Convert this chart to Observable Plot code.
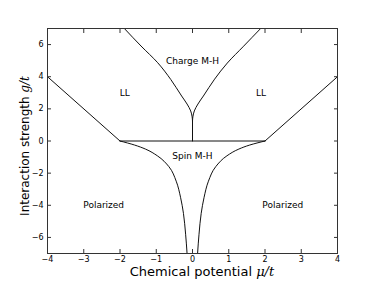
<!DOCTYPE html>
<html>
<head>
<meta charset="utf-8">
<script src="https://cdn.jsdelivr.net/npm/d3@7"></script>
<script src="https://cdn.jsdelivr.net/npm/@observablehq/plot@0.6"></script>
<style>
  html, body { margin: 0; padding: 0; background: #fff; }
</style>
</head>
<body>
<div id="chart"></div>
<script>
// ---- data ----
const xTicks = [-4, -3, -2, -1, 0, 1, 2, 3, 4];
const yTicks = [-6, -4, -2, 0, 2, 4, 6];

// straight boundaries
const llLeftMu = [-4, -2];
const llLeftG = [4, 0];
const llRightMu = [2, 4];
const llRightG = [0, 4];
const zeroLineMu = [-2, 2];
const zeroLineG = [0, 0];
const cuspMu = [0, 0];
const cuspG = [0, 1.25];

// Charge M-H boundaries
const chargeLeftMu = [0, -0.01, -0.05, -0.15, -0.30, -0.60, -0.96, -1.42, -1.88];
const chargeLeftG = [1.25, 1.5, 1.87, 2.3, 2.8, 3.83, 4.87, 5.91, 7.0];
const chargeRightMu = [0, 0.01, 0.05, 0.15, 0.30, 0.61, 0.96, 1.41, 1.88];
const chargeRightG = [1.25, 1.5, 1.87, 2.3, 2.8, 3.85, 4.85, 5.9, 7.0];

// Spin M-H boundaries
const spinLeftMu = [-2, -1.6, -1.3, -0.97, -0.65, -0.45, -0.33, -0.25, -0.19, -0.15];
const spinLeftG = [0, -0.25, -0.5, -0.92, -1.6, -2.5, -3.5, -4.5, -5.8, -7];
const spinRightMu = [2, 1.58, 1.28, 0.95, 0.64, 0.44, 0.32, 0.24, 0.18, 0.14];
const spinRightG = [0, -0.25, -0.5, -0.92, -1.6, -2.5, -3.5, -4.5, -5.8, -7];

// region labels
const regionNames = ["Charge M-H", "LL", "LL", "Spin M-H", "Polarized", "Polarized"];
const regionMu = [0, -1.87, 1.89, 0, -2.45, 2.49];
const regionG = [5.0, 3.0, 3.0, -0.96, -4.0, -4.0];

// ---- build ----
const toPts = (mu, g) => mu.map((m, i) => ({mu: m, g: g[i]}));
const straight = [
  toPts(llLeftMu, llLeftG), toPts(llRightMu, llRightG),
  toPts(zeroLineMu, zeroLineG), toPts(cuspMu, cuspG)
];
const curved = [
  toPts(chargeLeftMu, chargeLeftG), toPts(chargeRightMu, chargeRightG),
  toPts(spinLeftMu, spinLeftG), toPts(spinRightMu, spinRightG)
];
const regions = regionNames.map((n, i) => ({name: n, mu: regionMu[i], g: regionG[i]}));

const W = 374, H = 282;
const ml = 47, mr = 37, mt = 28, mb = 29;
const lineColor = "#111";

const chart = Plot.plot({
  width: W,
  height: H,
  marginLeft: ml,
  marginRight: mr,
  marginTop: mt,
  marginBottom: mb,
  style: {fontFamily: "'DejaVu Sans', sans-serif", fontSize: "8px", background: "#fff", color: "#000"},
  x: {domain: [-4, 4]},
  y: {domain: [-7, 7]},
  marks: [
    ...straight.map(d => Plot.line(d, {x: "mu", y: "g", stroke: lineColor, strokeWidth: 1})),
    ...curved.map(d => Plot.line(d, {x: "mu", y: "g", stroke: lineColor, strokeWidth: 1, curve: "monotone-y", clip: true})),
    Plot.text(regions, {x: "mu", y: "g", text: "name", fontSize: 9, fill: "#000"}),
    // tick labels
    Plot.axisX(xTicks, {anchor: "bottom", tickSize: 0, tickPadding: 3, label: null, fontSize: 8}),
    Plot.axisY(yTicks, {anchor: "left", tickSize: 0, tickPadding: 4, label: null, fontSize: 8}),
    // inward ticks on all four sides
    Plot.axisX(xTicks, {anchor: "bottom", tickSize: -4, fill: "none", label: null, stroke: "#333"}),
    Plot.axisX(xTicks, {anchor: "top", tickSize: -4, fill: "none", label: null, stroke: "#333"}),
    Plot.axisY(yTicks, {anchor: "left", tickSize: -4, fill: "none", label: null, stroke: "#333"}),
    Plot.axisY(yTicks, {anchor: "right", tickSize: -4, fill: "none", label: null, stroke: "#333"}),
    Plot.frame({stroke: "#333", strokeWidth: 1})
  ]
});

// axis titles with mixed fonts
const svg = d3.select(chart);
const xl = svg.append("text")
  .attr("x", 202).attr("y", 276)
  .attr("text-anchor", "middle")
  .attr("fill", "#000")
  .style("font-family", "'DejaVu Sans', sans-serif")
  .style("font-size", "13px");
xl.append("tspan").text("Chemical potential ");
xl.append("tspan").text("μ/t").style("font-family", "'DejaVu Serif', serif").style("font-style", "italic").style("font-size", "13px");

const yl = svg.append("text")
  .attr("transform", "translate(29,146) rotate(-90)")
  .attr("text-anchor", "middle")
  .attr("fill", "#000")
  .style("font-family", "'DejaVu Sans', sans-serif")
  .style("font-size", "12px");
yl.append("tspan").text("Interaction strength ");
yl.append("tspan").text("g/t").style("font-family", "'DejaVu Serif', serif").style("font-style", "italic").style("font-size", "12px");

document.getElementById("chart").appendChild(chart);
</script>
</body>
</html>
